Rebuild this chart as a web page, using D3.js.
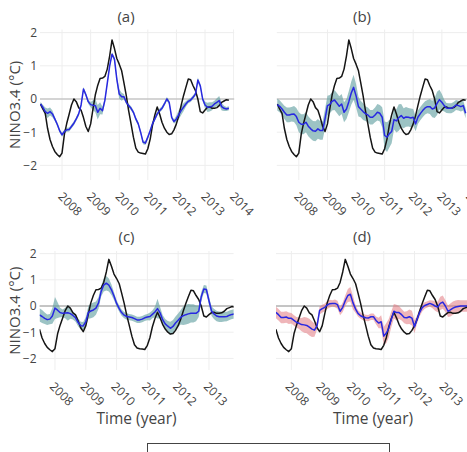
<!DOCTYPE html>
<html>
<head>
<meta charset="utf-8">
<script src="https://cdn.jsdelivr.net/npm/d3@7"></script>
<style>
  html, body { margin: 0; padding: 0; background: #fff; }
  svg { display: block; font-family: "Open Sans", "DejaVu Sans", sans-serif; }
</style>
</head>
<body>
<svg id="chart" width="467" height="452"></svg>
<script>
// ---------------- DATA (monthly, Apr 2007 .. Nov 2013) ----------------
const months = d3.timeMonth.range(new Date(2007, 3, 1), new Date(2013, 11, 1));

// observed NINO3.4 (black line), same in every panel
const observed = [-0.15,-0.3,-0.43,-0.89,-1.22,-1.43,-1.58,-1.67,-1.74,-1.63,
  -1.06,-0.74,-0.46,-0.18,0.0,-0.08,-0.26,-0.34,-0.56,-0.83,
  -0.98,-0.75,-0.28,0.12,0.41,0.62,0.63,0.68,0.9,1.3,
  1.78,1.52,1.22,1.05,0.85,0.5,0.1,-0.35,-0.75,-1.15,
  -1.48,-1.6,-1.63,-1.64,-1.66,-1.5,-1.2,-0.8,-0.48,-0.24,
  -0.45,-0.7,-0.88,-1.0,-1.07,-1.05,-0.93,-0.75,-0.5,-0.2,
  0.1,0.35,0.6,0.58,0.4,0.25,0.0,-0.38,-0.42,-0.33,
  -0.25,-0.24,-0.28,-0.28,-0.26,-0.2,-0.1,-0.06,-0.02,-0.04];

// model means (blue lines)
const meanA = [-0.15,-0.25,-0.38,-0.43,-0.38,-0.45,-0.6,-0.76,-0.95,-1.08,
  -0.98,-0.93,-0.92,-0.83,-0.73,-0.6,-0.45,-0.18,0.3,0.13,
  -0.08,-0.17,-0.19,-0.2,-0.4,-0.28,-0.35,-0.05,0.47,1.0,
  1.35,1.2,0.6,0.15,0.07,0.07,-0.1,-0.2,-0.28,-0.4,
  -0.6,-0.75,-1.0,-1.3,-1.33,-1.15,-0.95,-0.75,-0.6,-0.45,
  -0.35,-0.28,-0.15,0.0,-0.1,-0.55,-0.68,-0.6,-0.47,-0.35,
  -0.25,-0.15,-0.07,-0.03,0.05,0.15,0.57,0.4,0.0,-0.18,
  -0.25,-0.24,-0.22,-0.15,-0.1,-0.05,-0.23,-0.28,-0.3,-0.28];
const meanB = [-0.17,-0.22,-0.3,-0.4,-0.48,-0.48,-0.46,-0.45,-0.53,-0.7,
  -0.76,-0.76,-0.7,-0.82,-0.9,-0.96,-0.97,-0.9,-0.95,-0.95,
  -0.6,-0.2,-0.16,-0.07,-0.03,-0.12,-0.22,-0.15,-0.4,-0.3,
  -0.08,0.18,0.35,0.1,-0.23,-0.3,-0.38,-0.44,-0.48,-0.55,
  -0.55,-0.48,-0.4,-0.43,-0.55,-1.1,-1.15,-1.05,-0.98,-0.62,
  -0.66,-0.56,-0.5,-0.58,-0.54,-0.55,-0.57,-0.55,-0.75,-0.55,
  -0.44,-0.35,-0.27,-0.23,-0.23,-0.3,-0.27,-0.13,-0.02,-0.1,
  -0.2,-0.27,-0.28,-0.28,-0.24,-0.18,-0.2,-0.23,-0.2,-0.43];
const meanC = [null,null,null,-0.34,-0.4,-0.47,-0.52,-0.5,-0.38,-0.08,
  -0.16,-0.25,-0.28,-0.27,-0.26,-0.29,-0.36,-0.45,-0.62,-0.75,
  -0.76,-0.6,-0.24,-0.19,-0.15,-0.08,0.12,0.55,0.8,0.87,
  0.8,0.62,0.38,0.1,-0.1,-0.25,-0.35,-0.4,-0.42,-0.44,
  -0.48,-0.53,-0.53,-0.5,-0.45,-0.42,-0.4,-0.32,-0.23,-0.1,
  -0.26,-0.52,-0.68,-0.77,-0.85,-0.78,-0.65,-0.54,-0.43,-0.37,
  -0.33,-0.3,-0.28,-0.28,-0.28,-0.2,0.35,0.65,0.63,0.2,
  -0.2,-0.3,-0.38,-0.41,-0.41,-0.41,-0.4,-0.35,-0.32,-0.3];
const meanD = [null,null,null,-0.24,-0.33,-0.44,-0.44,-0.42,-0.47,-0.47,
  -0.55,-0.62,-0.66,-0.71,-0.72,-0.74,-0.81,-0.88,-0.92,-0.75,
  -0.17,-0.1,-0.05,0.04,0.09,0.1,0.1,0.05,-0.2,-0.05,
  0.2,0.4,0.45,0.12,-0.12,-0.28,-0.37,-0.42,-0.45,-0.46,
  -0.41,-0.41,-0.55,-0.65,-0.6,-1.15,-1.03,-0.85,-0.5,-0.2,
  -0.25,-0.25,-0.33,-0.44,-0.45,-0.41,-0.46,-0.79,-0.5,-0.25,
  -0.06,0.02,0.06,0.1,0.06,0.0,-0.04,0.1,0.15,0.0,
  -0.2,-0.15,-0.08,-0.04,-0.02,0.0,0.0,0.0,0.0,0.0];

// half-width of the uncertainty band around each mean
const spreadA = [0.06,0.08,0.12,0.14,0.12,0.1,0.06,0.06,0.06,0.06,
  0.06,0.06,0.06,0.06,0.06,0.06,0.06,0.06,0.06,0.06,
  0.06,0.08,0.15,0.2,0.22,0.18,0.12,0.08,0.06,0.06,
  0.06,0.06,0.1,0.14,0.12,0.08,0.06,0.06,0.06,0.06,
  0.06,0.06,0.06,0.06,0.06,0.06,0.06,0.06,0.06,0.06,
  0.06,0.06,0.06,0.06,0.06,0.06,0.06,0.1,0.14,0.14,
  0.12,0.08,0.06,0.06,0.06,0.06,0.08,0.06,0.06,0.1,
  0.14,0.14,0.12,0.1,0.12,0.14,0.12,0.08,0.06,0.06];
const spreadB = [0.18,0.18,0.18,0.2,0.22,0.22,0.22,0.24,0.26,0.3,
  0.3,0.3,0.3,0.3,0.3,0.3,0.3,0.3,0.28,0.28,
  0.3,0.3,0.28,0.28,0.3,0.3,0.3,0.3,0.3,0.3,
  0.32,0.35,0.38,0.35,0.3,0.25,0.25,0.22,0.22,0.22,
  0.22,0.22,0.25,0.25,0.3,0.42,0.45,0.42,0.35,0.3,
  0.35,0.4,0.35,0.3,0.3,0.28,0.28,0.25,0.22,0.2,
  0.2,0.2,0.2,0.2,0.22,0.25,0.3,0.35,0.3,0.25,
  0.18,0.15,0.15,0.15,0.15,0.15,0.15,0.15,0.15,0.15];
const spreadC = [0,0,0,0.25,0.25,0.22,0.2,0.2,0.3,0.42,
  0.3,0.18,0.15,0.2,0.3,0.2,0.15,0.15,0.15,0.15,
  0.15,0.18,0.25,0.28,0.28,0.25,0.22,0.2,0.25,0.28,
  0.25,0.2,0.15,0.12,0.12,0.12,0.12,0.12,0.12,0.12,
  0.12,0.12,0.12,0.12,0.12,0.12,0.15,0.15,0.2,0.38,
  0.22,0.18,0.18,0.2,0.25,0.25,0.25,0.25,0.28,0.35,
  0.38,0.38,0.35,0.35,0.3,0.22,0.18,0.15,0.15,0.15,
  0.18,0.2,0.2,0.2,0.2,0.18,0.18,0.18,0.18,0.18];
const spreadD = [0,0,0,0.22,0.22,0.22,0.22,0.22,0.22,0.2,
  0.2,0.2,0.22,0.25,0.3,0.3,0.32,0.3,0.25,0.15,
  0.15,0.15,0.15,0.15,0.15,0.12,0.15,0.15,0.15,0.18,
  0.2,0.25,0.28,0.25,0.15,0.12,0.12,0.12,0.12,0.12,
  0.12,0.12,0.15,0.2,0.25,0.35,0.38,0.35,0.3,0.28,
  0.3,0.25,0.22,0.22,0.25,0.28,0.28,0.25,0.15,0.15,
  0.15,0.12,0.12,0.12,0.15,0.18,0.2,0.25,0.25,0.22,
  0.22,0.25,0.25,0.25,0.25,0.22,0.22,0.22,0.22,0.22];

const panelTitles = ["(a)", "(b)", "(c)", "(d)"];
const yTicks = [-2, -1, 0, 1, 2];
const yearTicksTop = [2008, 2009, 2010, 2011, 2012, 2013, 2014];
const yearTicksBottom = [2008, 2009, 2010, 2011, 2012, 2013];
const yLabel = "NINO3.4 (°C)";
const xLabel = "Time (year)";

// ---------------- LAYOUT ----------------
const yearDate = y => {
  const yr = Math.floor(y), s = new Date(yr, 0, 1), e = new Date(yr + 1, 0, 1);
  return new Date(+s + (y - yr) * (e - s));
};
const teal = "rgba(95,158,160,0.62)";
const pink = "rgba(226,120,128,0.55)";
const blue = "rgb(40,40,225)";

const panels = [
  {mean: meanA, spread: spreadA, band: teal, dom: [2007.23, 2014.02], xr: [40, 234.2], yr: [180.3, 29.3],
   ticks: yearTicksTop, showY: true, xTitle: false, lblDx: -5, title: [126, 22], zero: ["#c6c6c6", 1.5], start: 0},
  {mean: meanB, spread: spreadB, band: teal, dom: [2007.23, 2014.02], xr: [276.8, 471], yr: [180.3, 29.3],
   ticks: yearTicksTop, showY: false, xTitle: false, lblDx: -5.8, title: [362, 22], zero: ["#c6c6c6", 1.5], start: 0},
  {mean: meanC, spread: spreadC, band: teal, dom: [2007.5, 2013.8], xr: [39.6, 233.6], yr: [370.2, 251],
   ticks: yearTicksBottom, showY: true, xTitle: true, lblDx: -6.5, title: [126.5, 242], zero: ["#8a8a8a", 1], start: 3},
  {mean: meanD, spread: spreadD, band: pink, dom: [2007.5, 2013.8], xr: [276, 470], yr: [370.2, 251],
   ticks: yearTicksBottom, showY: false, xTitle: true, lblDx: -7.2, title: [362, 242], zero: ["#8a8a8a", 1], start: 3}
];

const svg = d3.select("#chart");
const textColor = "#444";

panels.forEach((p, k) => {
  const x = d3.scaleTime().domain(p.dom.map(yearDate)).range(p.xr);
  const y = d3.scaleLinear().domain([-2.45, 2.1]).range(p.yr);
  const g = svg.append("g");
  const clipId = "clip" + k;
  svg.append("clipPath").attr("id", clipId).append("rect")
    .attr("x", p.xr[0]).attr("y", p.yr[1])
    .attr("width", p.xr[1] - p.xr[0]).attr("height", p.yr[0] - p.yr[1]);

  // grid
  const tickDates = p.ticks.map(t => new Date(t, 0, 1));
  g.append("g").selectAll("line").data(tickDates).join("line")
    .attr("x1", d => x(d)).attr("x2", d => x(d))
    .attr("y1", p.yr[1]).attr("y2", p.yr[0])
    .attr("stroke", "#eeeeee").attr("stroke-width", 1)
    .attr("clip-path", `url(#${clipId})`);
  g.append("g").selectAll("line").data(yTicks.filter(v => v !== 0)).join("line")
    .attr("x1", p.xr[0]).attr("x2", p.xr[1])
    .attr("y1", d => y(d)).attr("y2", d => y(d))
    .attr("stroke", "#eeeeee").attr("stroke-width", 1);
  g.append("line")
    .attr("x1", p.xr[0]).attr("x2", p.xr[1]).attr("y1", y(0)).attr("y2", y(0))
    .attr("stroke", p.zero[0]).attr("stroke-width", p.zero[1]);

  // data
  const rows = months.map((m, i) => ({
    t: m, obs: i >= p.start ? observed[i] : null, mean: p.mean[i], s: p.spread[i]
  }));
  const plot = g.append("g").attr("clip-path", `url(#${clipId})`);
  plot.append("path").datum(rows)
    .attr("fill", p.band)
    .attr("d", d3.area().defined(d => d.mean !== null)
      .x(d => x(d.t)).y0(d => y(d.mean - d.s)).y1(d => y(d.mean + d.s)));
  plot.append("path").datum(rows)
    .attr("fill", "none").attr("stroke", "#151515").attr("stroke-width", 1.5)
    .attr("stroke-linejoin", "round")
    .attr("d", d3.line().defined(d => d.obs !== null).x(d => x(d.t)).y(d => y(d.obs)));
  plot.append("path").datum(rows)
    .attr("fill", "none").attr("stroke", blue).attr("stroke-width", 1.5)
    .attr("stroke-linejoin", "round")
    .attr("d", d3.line().defined(d => d.mean !== null).x(d => x(d.t)).y(d => y(d.mean)));

  // x axis labels (rotated)
  const xa = g.append("g").attr("transform", `translate(0,${p.yr[0]})`)
    .call(d3.axisBottom(x).tickValues(tickDates).tickFormat(d3.timeFormat("%Y")).tickSize(0));
  xa.select(".domain").remove();
  xa.selectAll("text")
    .attr("x", 0).attr("y", 0).attr("dy", 0)
    .attr("text-anchor", "start")
    .attr("transform", `translate(${p.lblDx},17) rotate(45)`)
    .attr("fill", textColor).style("font-size", "12px")
    .style("font-family", '"Open Sans", sans-serif');

  // y axis
  if (p.showY) {
    const ya = g.append("g").attr("transform", `translate(${p.xr[0] - 3},0)`)
      .call(d3.axisLeft(y).tickValues(yTicks).tickSize(0).tickFormat(d3.format("d")));
    ya.select(".domain").remove();
    ya.selectAll("text").attr("x", 0).attr("fill", textColor)
      .style("font-size", "12px").style("font-family", '"Open Sans", sans-serif');
    const cy = (p.yr[0] + p.yr[1]) / 2;
    g.append("text").attr("transform", `translate(19.5,${cy}) rotate(-90)`)
      .attr("text-anchor", "middle").attr("fill", textColor)
      .style("font-size", "15px").text(yLabel);
  }
  if (p.xTitle) {
    g.append("text").attr("x", (p.xr[0] + p.xr[1]) / 2).attr("y", 424)
      .attr("text-anchor", "middle").attr("fill", textColor)
      .style("font-size", "15.5px").text(xLabel);
  }
  g.append("text").attr("x", p.title[0]).attr("y", p.title[1])
    .attr("text-anchor", "middle").attr("fill", textColor)
    .style("font-size", "15px").text(panelTitles[k]);
});

// legend box (cut off at the bottom of the picture)
svg.append("rect").attr("x", 147.5).attr("y", 443.5).attr("width", 242).attr("height", 30)
  .attr("fill", "#fff").attr("stroke", "#444").attr("stroke-width", 1);
</script>
</body>
</html>
